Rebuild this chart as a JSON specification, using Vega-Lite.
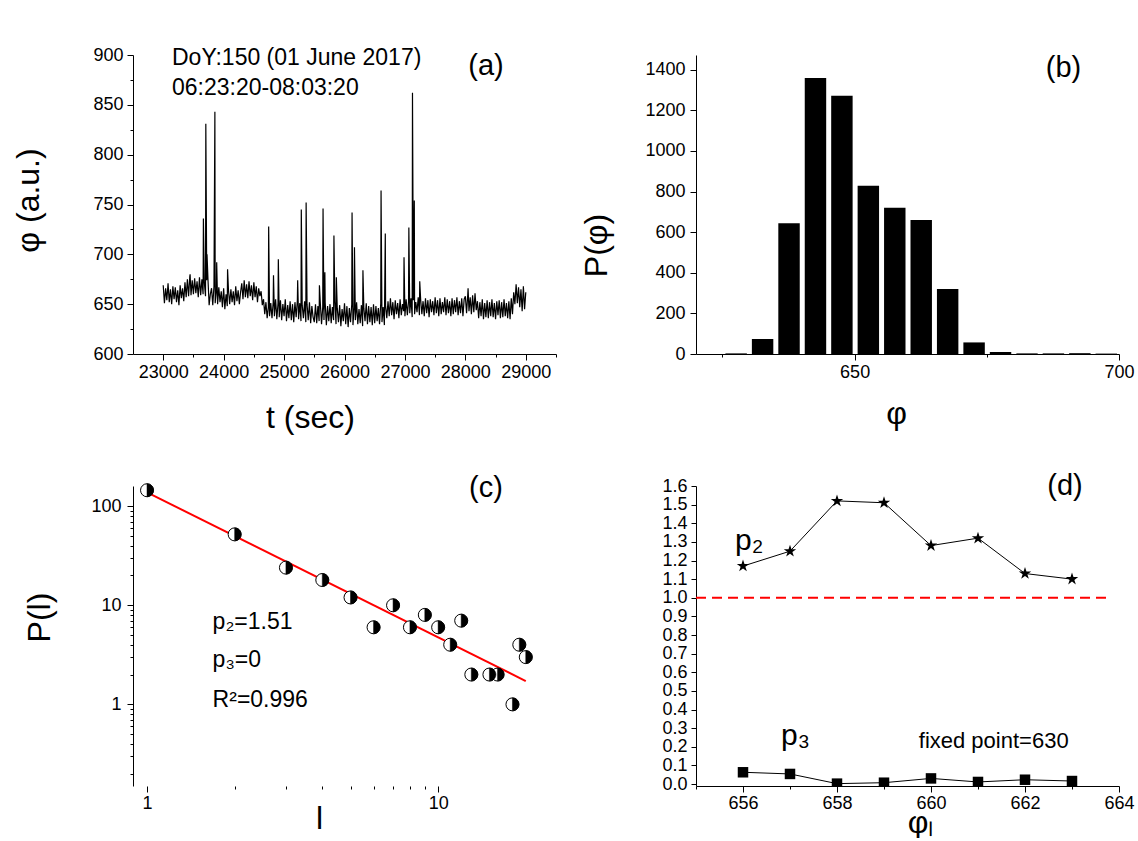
{
  "$schema": "https://vega.github.io/schema/vega-lite/v6.json",
  "background": "white",
  "padding": {"left": 12, "top": 46, "right": 0, "bottom": 0},
  "columns": 2,
  "bounds": "flush",
  "spacing": {"row": 132, "column": 140},
  "config": {
    "view": {"stroke": null},
    "font": "Liberation Sans",
    "text": {"font": "Liberation Sans", "color": "black"},
    "axis": {
      "domainColor": "#000", "tickColor": "#000", "labelColor": "#000", "titleColor": "#000",
      "labelFont": "Liberation Sans", "titleFont": "Liberation Sans",
      "labelFontSize": 18, "titleFontSize": 32, "titleFontWeight": "normal",
      "grid": false, "domainWidth": 1, "tickWidth": 1,
      "labelOverlap": false, "labelFlush": false,
      "titleAlign": "center", "titleBaseline": "middle"
    }
  },
  "datasets": {
    "series": [
      {"t":23000,"v":669},{"t":23020,"v":651},{"t":23040,"v":666},{"t":23060,"v":654},{"t":23080,"v":671},{"t":23100,"v":652},{"t":23120,"v":665},{"t":23140,"v":650},{"t":23160,"v":668},{"t":23180,"v":655},
      {"t":23200,"v":667},{"t":23220,"v":652},{"t":23240,"v":664},{"t":23260,"v":649},{"t":23280,"v":669},{"t":23300,"v":656},{"t":23320,"v":666},{"t":23340,"v":653},{"t":23360,"v":672},{"t":23380,"v":657},
      {"t":23400,"v":675},{"t":23420,"v":658},{"t":23440,"v":678},{"t":23445,"v":680},{"t":23460,"v":659},{"t":23480,"v":674},{"t":23500,"v":660},{"t":23520,"v":676},{"t":23540,"v":661},{"t":23560,"v":673},{"t":23580,"v":657},
      {"t":23600,"v":677},{"t":23620,"v":659},{"t":23640,"v":675},{"t":23660,"v":660},{"t":23665,"v":736},{"t":23680,"v":672},{"t":23700,"v":658},{"t":23705,"v":831},{"t":23720,"v":674},{"t":23725,"v":700},
      {"t":23740,"v":676},{"t":23760,"v":649},{"t":23780,"v":660},
      {"t":23800,"v":666},{"t":23820,"v":649},{"t":23840,"v":668},{"t":23855,"v":843},{"t":23860,"v":651},{"t":23880,"v":664},{"t":23885,"v":692},{"t":23900,"v":650},{"t":23920,"v":667},{"t":23940,"v":652},{"t":23960,"v":663},{"t":23980,"v":647},
      {"t":24000,"v":666},{"t":24020,"v":645},{"t":24040,"v":660},{"t":24060,"v":648},{"t":24065,"v":685},{"t":24080,"v":664},{"t":24100,"v":650},{"t":24120,"v":665},{"t":24140,"v":652},{"t":24160,"v":663},{"t":24180,"v":649},
      {"t":24200,"v":668},{"t":24220,"v":653},{"t":24240,"v":664},{"t":24260,"v":650},{"t":24280,"v":662},
      {"t":24300,"v":671},{"t":24320,"v":655},{"t":24340,"v":674},{"t":24360,"v":657},{"t":24380,"v":670},{"t":24400,"v":656},{"t":24420,"v":673},{"t":24440,"v":658},{"t":24460,"v":669},{"t":24480,"v":654},
      {"t":24500,"v":672},{"t":24520,"v":657},{"t":24540,"v":668},{"t":24560,"v":652},{"t":24580,"v":666},
      {"t":24600,"v":658},{"t":24620,"v":663},{"t":24640,"v":649},{"t":24660,"v":655},{"t":24680,"v":640},{"t":24700,"v":652},{"t":24720,"v":636},{"t":24740,"v":647},{"t":24745,"v":728},{"t":24760,"v":638},{"t":24780,"v":651},
      {"t":24800,"v":636},{"t":24820,"v":652},{"t":24825,"v":679},{"t":24840,"v":638},{"t":24860,"v":655},{"t":24880,"v":635},{"t":24900,"v":651},{"t":24905,"v":695},{"t":24920,"v":637},{"t":24940,"v":654},{"t":24960,"v":634},{"t":24980,"v":650},
      {"t":25000,"v":638},{"t":25020,"v":655},{"t":25040,"v":633},{"t":25060,"v":649},{"t":25080,"v":636},{"t":25100,"v":653},{"t":25120,"v":634},{"t":25140,"v":650},{"t":25160,"v":632},{"t":25180,"v":652},
      {"t":25200,"v":637},{"t":25220,"v":654},{"t":25225,"v":674},{"t":25240,"v":635},{"t":25260,"v":651},{"t":25280,"v":633},{"t":25285,"v":745},{"t":25300,"v":649},{"t":25320,"v":636},{"t":25340,"v":653},{"t":25360,"v":632},{"t":25365,"v":752},{"t":25380,"v":650},
      {"t":25400,"v":634},{"t":25420,"v":652},{"t":25440,"v":631},{"t":25460,"v":648},{"t":25480,"v":637},
      {"t":25500,"v":632},{"t":25520,"v":650},{"t":25540,"v":631},{"t":25560,"v":648},{"t":25580,"v":633},{"t":25585,"v":669},{"t":25600,"v":651},{"t":25620,"v":630},{"t":25640,"v":647},{"t":25645,"v":746},{"t":25660,"v":634},{"t":25675,"v":682},{"t":25680,"v":652},
      {"t":25700,"v":629},{"t":25720,"v":648},{"t":25740,"v":633},{"t":25760,"v":650},{"t":25780,"v":631},{"t":25800,"v":647},{"t":25820,"v":634},{"t":25825,"v":719},{"t":25840,"v":653},{"t":25860,"v":630},{"t":25865,"v":677},{"t":25880,"v":646},
      {"t":25900,"v":632},{"t":25920,"v":649},{"t":25940,"v":628},{"t":25960,"v":645},{"t":25980,"v":633},{"t":26000,"v":651},{"t":26020,"v":630},{"t":26040,"v":648},{"t":26060,"v":627},{"t":26080,"v":646},
      {"t":26100,"v":632},{"t":26120,"v":650},{"t":26125,"v":742},{"t":26140,"v":629},{"t":26160,"v":647},{"t":26165,"v":707},{"t":26180,"v":634},{"t":26200,"v":652},{"t":26220,"v":630},{"t":26240,"v":645},{"t":26260,"v":631},{"t":26280,"v":649},
      {"t":26300,"v":628},{"t":26305,"v":684},{"t":26320,"v":646},{"t":26340,"v":633},{"t":26360,"v":651},{"t":26380,"v":630},{"t":26400,"v":648},{"t":26420,"v":632},{"t":26440,"v":647},{"t":26460,"v":629},{"t":26480,"v":650},
      {"t":26500,"v":631},{"t":26520,"v":648},{"t":26540,"v":633},{"t":26560,"v":646},{"t":26580,"v":630},{"t":26600,"v":651},{"t":26605,"v":764},{"t":26620,"v":632},{"t":26640,"v":647},{"t":26660,"v":629},{"t":26675,"v":721},{"t":26680,"v":648},
      {"t":26700,"v":636},{"t":26720,"v":653},{"t":26740,"v":638},{"t":26760,"v":656},{"t":26780,"v":639},{"t":26800,"v":652},{"t":26820,"v":635},{"t":26840,"v":654},{"t":26860,"v":640},{"t":26880,"v":651},
      {"t":26900,"v":636},{"t":26920,"v":655},{"t":26940,"v":639},{"t":26960,"v":650},{"t":26980,"v":643},{"t":26985,"v":697},
      {"t":27000,"v":638},{"t":27020,"v":655},{"t":27040,"v":639},{"t":27060,"v":653},{"t":27065,"v":727},{"t":27080,"v":641},{"t":27100,"v":656},{"t":27120,"v":637},{"t":27125,"v":862},{"t":27140,"v":654},{"t":27155,"v":754},{"t":27160,"v":640},{"t":27180,"v":652},
      {"t":27200,"v":642},{"t":27220,"v":657},{"t":27240,"v":639},{"t":27245,"v":673},{"t":27260,"v":655},{"t":27280,"v":640},{"t":27300,"v":653},{"t":27320,"v":638},{"t":27340,"v":656},{"t":27360,"v":641},{"t":27380,"v":654},
      {"t":27400,"v":637},{"t":27420,"v":655},{"t":27440,"v":642},{"t":27460,"v":653},{"t":27480,"v":639},{"t":27500,"v":657},{"t":27520,"v":641},{"t":27540,"v":654},{"t":27560,"v":638},{"t":27580,"v":656},
      {"t":27600,"v":640},{"t":27620,"v":652},{"t":27640,"v":642},{"t":27660,"v":657},{"t":27680,"v":639},{"t":27700,"v":655},{"t":27720,"v":641},{"t":27740,"v":653},{"t":27760,"v":638},{"t":27780,"v":656},
      {"t":27800,"v":640},{"t":27820,"v":654},{"t":27840,"v":642},{"t":27860,"v":657},{"t":27880,"v":639},{"t":27900,"v":653},{"t":27920,"v":641},{"t":27940,"v":656},{"t":27960,"v":638},{"t":27980,"v":655},
      {"t":28000,"v":658},{"t":28020,"v":641},{"t":28040,"v":660},{"t":28045,"v":666},{"t":28060,"v":643},{"t":28080,"v":657},{"t":28100,"v":640},{"t":28120,"v":659},{"t":28140,"v":642},{"t":28160,"v":661},{"t":28180,"v":644},
      {"t":28200,"v":653},{"t":28220,"v":636},{"t":28240,"v":652},{"t":28260,"v":638},{"t":28280,"v":655},{"t":28300,"v":635},{"t":28320,"v":651},{"t":28340,"v":637},{"t":28360,"v":654},{"t":28380,"v":636},
      {"t":28400,"v":652},{"t":28420,"v":638},{"t":28440,"v":655},{"t":28460,"v":637},{"t":28480,"v":651},{"t":28500,"v":635},{"t":28520,"v":653},{"t":28540,"v":639},{"t":28560,"v":654},{"t":28580,"v":636},
      {"t":28600,"v":652},{"t":28620,"v":637},{"t":28640,"v":655},{"t":28660,"v":638},{"t":28680,"v":651},{"t":28700,"v":636},{"t":28720,"v":653},{"t":28740,"v":635},{"t":28760,"v":656},{"t":28780,"v":640},
      {"t":28800,"v":662},{"t":28820,"v":650},{"t":28840,"v":670},{"t":28860,"v":651},{"t":28880,"v":667},{"t":28900,"v":647},{"t":28920,"v":665},{"t":28940,"v":643},{"t":28960,"v":668},{"t":28980,"v":645},
      {"t":29000,"v":662}
    ],
    "notesA": [
      {"t":23145,"v":890,"label":"DoY:150 (01 June 2017)"},
      {"t":23145,"v":860,"label":"06:23:20-08:03:20"}
    ],
    "tagA": [{"t":28341,"v":889,"label":"(a)"}],
    "hist": [
      {"lo":625,"hi":630,"n":3},{"lo":630,"hi":635,"n":74},{"lo":635,"hi":640,"n":644},{"lo":640,"hi":645,"n":1359},
      {"lo":645,"hi":650,"n":1272},{"lo":650,"hi":655,"n":828},{"lo":655,"hi":660,"n":720},{"lo":660,"hi":665,"n":660},
      {"lo":665,"hi":670,"n":320},{"lo":670,"hi":675,"n":57},{"lo":675,"hi":680,"n":10},{"lo":680,"hi":685,"n":3},
      {"lo":685,"hi":690,"n":3},{"lo":690,"hi":695,"n":4},{"lo":695,"hi":700,"n":2}
    ],
    "tagB": [{"lo":689.5,"n":1408,"label":"(b)"}],
    "pl": [
      {"l":1,"P":145},{"l":2,"P":52},{"l":3,"P":24},{"l":4,"P":18},{"l":5,"P":12},{"l":6,"P":6},
      {"l":7,"P":10},{"l":8,"P":6},{"l":9,"P":8},{"l":10,"P":6},{"l":11,"P":4},{"l":12,"P":7},
      {"l":13,"P":2},{"l":15,"P":2},{"l":16,"P":2},{"l":18,"P":1},{"l":19,"P":4},{"l":20,"P":3}
    ],
    "fit": [{"l":1,"P":138},{"l":20,"P":1.72}],
    "notesC": [
      {"l":1.68,"P":6.83,"label":"p₂=1.51"},
      {"l":1.68,"P":2.81,"label":"p₃=0"},
      {"l":1.68,"P":1.108,"label":"R²=0.996"}
    ],
    "tagC": [{"l":14.6,"P":152,"label":"(c)"}],
    "p2": [
      {"x":656,"y":1.17},{"x":657,"y":1.25},{"x":658,"y":1.52},{"x":659,"y":1.51},
      {"x":660,"y":1.28},{"x":661,"y":1.32},{"x":662,"y":1.13},{"x":663,"y":1.10}
    ],
    "p3": [
      {"x":656,"y":0.063},{"x":657,"y":0.054},{"x":658,"y":0.002},{"x":659,"y":0.007},
      {"x":660,"y":0.030},{"x":661,"y":0.011},{"x":662,"y":0.023},{"x":663,"y":0.016}
    ],
    "ref": [{"x":655,"x2":663.85,"y":1}],
    "tagD": [{"x":662.85,"y":1.6,"label":"(d)"}],
    "pLabels": [{"x":655.83,"y":1.256,"label":"p₂"},{"x":656.81,"y":0.209,"label":"p₃"}],
    "fixedNote": [{"x":659.74,"y":0.193,"label":"fixed point=630"}]
  },
  "concat": [
    {
      "width": 423, "height": 299,
      "encoding": {
        "x": {"field": "t", "type": "quantitative",
          "scale": {"domain": [22500, 29500], "nice": false, "zero": false},
          "axis": {"title": "t (sec)", "format": "d",
            "values": [23000,23500,24000,24500,25000,25500,26000,26500,27000,27500,28000,28500,29000,29500],
            "labelExpr": "datum.value % 1000 === 0 ? datum.label : ''",
            "tickSize": {"condition": {"test": "datum.value % 1000 === 0", "value": 6}, "value": 3},
            "labelPadding": 3, "titleX": 177, "titleY": 63}},
        "y": {"field": "v", "type": "quantitative",
          "scale": {"domain": [600, 900], "nice": false, "zero": false},
          "axis": {"title": "φ (a.u.)", "format": "d",
            "values": [600,625,650,675,700,725,750,775,800,825,850,875,900],
            "labelExpr": "datum.value % 50 === 0 ? datum.label : ''",
            "tickSize": {"condition": {"test": "datum.value % 50 === 0", "value": 6}, "value": 3},
            "labelPadding": 4, "titleX": -105, "titleY": 145}}
      },
      "layer": [
        {"data": {"name": "series"}, "mark": {"type": "line", "color": "black", "strokeWidth": 1.2, "clip": true}},
        {"data": {"name": "notesA"}, "mark": {"type": "text", "align": "left", "baseline": "alphabetic", "fontSize": 23},
         "encoding": {"text": {"field": "label"}}},
        {"data": {"name": "tagA"}, "mark": {"type": "text", "align": "center", "baseline": "middle", "fontSize": 29},
         "encoding": {"text": {"field": "label"}}}
      ]
    },
    {
      "width": 423, "height": 299,
      "layer": [
        {"data": {"name": "hist"}, "mark": {"type": "bar", "color": "black", "binSpacing": 5},
         "encoding": {
           "x": {"field": "lo", "type": "quantitative", "bin": "binned",
             "scale": {"domain": [620, 700], "nice": false, "zero": false},
             "axis": {"title": "φ", "format": "d", "values": [625, 650, 675, 700],
               "labelExpr": "datum.value % 50 === 0 ? datum.label : ''",
               "tickSize": {"condition": {"test": "datum.value % 50 === 0", "value": 6}, "value": 3},
               "labelPadding": 3, "titleX": 200, "titleY": 59}},
           "x2": {"field": "hi"},
           "y": {"field": "n", "type": "quantitative",
             "scale": {"domain": [0, 1472], "nice": false},
             "axis": {"title": "P(φ)", "format": "d",
               "values": [0,100,200,300,400,500,600,700,800,900,1000,1100,1200,1300,1400],
               "labelExpr": "datum.value % 200 === 0 ? datum.label : ''",
               "tickSize": {"condition": {"test": "datum.value % 200 === 0", "value": 6}, "value": 3},
               "labelPadding": 5, "titleX": -100, "titleY": 190}}
         }},
        {"data": {"name": "tagB"}, "mark": {"type": "text", "align": "center", "baseline": "middle", "fontSize": 29},
         "encoding": {
           "x": {"field": "lo", "type": "quantitative"},
           "y": {"field": "n", "type": "quantitative"},
           "text": {"field": "label"}}}
      ]
    },
    {
      "width": 423, "height": 300,
      "encoding": {
        "x": {"field": "l", "type": "quantitative",
          "scale": {"type": "log", "domain": [0.895, 25.4], "nice": false},
          "axis": {"title": "l", "domain": false,
            "values": [1,2,3,4,5,6,7,8,9,10],
            "labelExpr": "datum.value === 1 || datum.value === 10 ? datum.value + '' : ''",
            "tickSize": {"condition": {"test": "datum.value === 1 || datum.value === 10", "value": 6}, "value": 3},
            "labelPadding": 2, "titleX": 186, "titleY": 32}},
        "y": {"field": "P", "type": "quantitative",
          "scale": {"type": "log", "domain": [0.15, 160], "nice": false},
          "axis": {"title": "P(l)",
            "values": [0.2,0.3,0.4,0.5,0.6,0.7,0.8,0.9,1,2,3,4,5,6,7,8,9,10,20,30,40,50,60,70,80,90,100],
            "labelExpr": "datum.value === 1 || datum.value === 10 || datum.value === 100 ? datum.value + '' : ''",
            "tickSize": {"condition": {"test": "datum.value === 1 || datum.value === 10 || datum.value === 100", "value": 6}, "value": 3},
            "labelPadding": 6, "titleX": -94, "titleY": 131}}
      },
      "layer": [
        {"data": {"name": "fit"}, "mark": {"type": "line", "color": "#ff0000", "strokeWidth": 2}},
        {"data": {"name": "pl"}, "mark": {"type": "point", "shape": "circle", "filled": true, "fill": "white", "stroke": "black", "strokeWidth": 1, "size": 169, "opacity": 1}},
        {"data": {"name": "pl"}, "mark": {"type": "point", "shape": "M0,-1A1,1 0 0,1 0,1Z", "filled": true, "fill": "black", "stroke": "black", "strokeWidth": 0.5, "size": 169, "opacity": 1}},
        {"data": {"name": "notesC"}, "mark": {"type": "text", "align": "left", "baseline": "middle", "fontSize": 23},
         "encoding": {"text": {"field": "label"}}},
        {"data": {"name": "tagC"}, "mark": {"type": "text", "align": "center", "baseline": "middle", "fontSize": 29},
         "encoding": {"text": {"field": "label"}}}
      ]
    },
    {
      "width": 423, "height": 300,
      "encoding": {
        "x": {"field": "x", "type": "quantitative",
          "scale": {"domain": [655, 664], "nice": false, "zero": false},
          "axis": {"title": "φₗ", "format": "d",
            "values": [655,656,657,658,659,660,661,662,663,664],
            "labelExpr": "datum.value % 2 === 0 ? datum.label : ''",
            "tickSize": {"condition": {"test": "datum.value % 2 === 0", "value": 6}, "value": 3},
            "labelPadding": 2, "titleX": 224, "titleY": 36}},
        "y": {"field": "y", "type": "quantitative",
          "scale": {"domain": [-0.0107, 1.6], "nice": false, "zero": false},
          "axis": {"title": null, "format": ".1f",
            "values": [0,0.1,0.2,0.3,0.4,0.5,0.6,0.7,0.8,0.9,1,1.1,1.2,1.3,1.4,1.5,1.6],
            "tickSize": 5, "labelPadding": 4}}
      },
      "layer": [
        {"data": {"name": "ref"}, "mark": {"type": "rule", "color": "#ff0000", "strokeWidth": 2, "strokeDash": [10, 6]},
         "encoding": {"x2": {"field": "x2"}}},
        {"data": {"name": "p2"}, "mark": {"type": "line", "color": "black", "strokeWidth": 1}},
        {"data": {"name": "p2"}, "mark": {"type": "point", "shape": "M0,-1L0.2245,-0.309L0.951,-0.309L0.363,0.118L0.588,0.809L0,0.382L-0.588,0.809L-0.363,0.118L-0.951,-0.309L-0.2245,-0.309Z", "filled": true, "color": "black", "size": 170, "opacity": 1}},
        {"data": {"name": "p3"}, "mark": {"type": "line", "color": "black", "strokeWidth": 1, "clip": true}},
        {"data": {"name": "p3"}, "mark": {"type": "point", "shape": "square", "filled": true, "color": "black", "size": 110, "opacity": 1, "clip": true}},
        {"data": {"name": "tagD"}, "mark": {"type": "text", "align": "center", "baseline": "middle", "fontSize": 29},
         "encoding": {"text": {"field": "label"}}},
        {"data": {"name": "pLabels"}, "mark": {"type": "text", "align": "left", "baseline": "alphabetic", "fontSize": 30},
         "encoding": {"text": {"field": "label"}}},
        {"data": {"name": "fixedNote"}, "mark": {"type": "text", "align": "left", "baseline": "alphabetic", "fontSize": 22},
         "encoding": {"text": {"field": "label"}}}
      ]
    }
  ]
}
